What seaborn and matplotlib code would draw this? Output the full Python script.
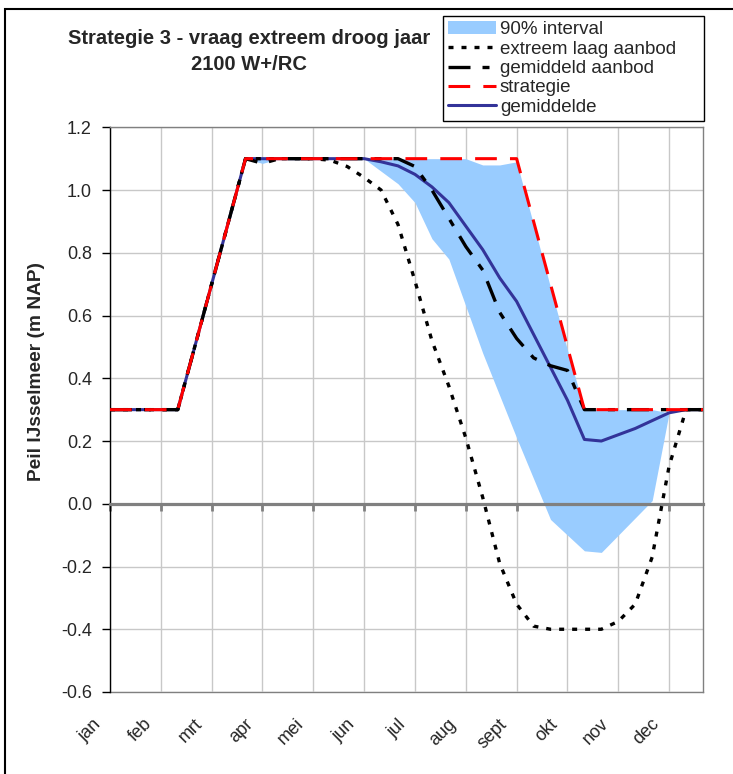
import numpy as np
import pandas as pd
import matplotlib
matplotlib.use("Agg")
import matplotlib.pyplot as plt
import seaborn as sns
from matplotlib.patches import Rectangle
from matplotlib.transforms import ScaledTranslation

# ---------------- data ----------------
months = ['jan', 'feb', 'mrt', 'apr', 'mei', 'jun', 'jul', 'aug', 'sept', 'okt', 'nov', 'dec']
decade = list(range(36))  # 3 decades per month

strategie = [0.3, 0.3, 0.3, 0.3, 0.3, 0.5, 0.7, 0.9,
             1.1, 1.1, 1.1, 1.1, 1.1, 1.1, 1.1, 1.1, 1.1, 1.1, 1.1, 1.1, 1.1, 1.1, 1.1, 1.1, 1.1,
             0.9, 0.7, 0.5,
             0.3, 0.3, 0.3, 0.3, 0.3, 0.3, 0.3, 0.3]

gemiddelde = [0.3, 0.3, 0.3, 0.3, 0.3, 0.5, 0.7, 0.9,
              1.1, 1.1, 1.1, 1.1, 1.1, 1.1, 1.1, 1.1,
              1.09, 1.077, 1.05, 1.01, 0.96, 0.885, 0.81, 0.72, 0.645, 0.54, 0.435, 0.33,
              0.205, 0.20, 0.22, 0.24, 0.265, 0.29, 0.30, 0.30]

gemiddeld_aanbod = [0.3, 0.3, 0.3, 0.3, 0.3, 0.5, 0.7, 0.9,
                    1.1, 1.085, 1.1, 1.1, 1.1, 1.1, 1.1, 1.1, 1.1, 1.1,
                    1.075, 1.0, 0.91, 0.82, 0.745, 0.61, 0.527, 0.465, 0.44, 0.425,
                    0.3, 0.3, 0.3, 0.3, 0.3, 0.3, 0.3, 0.3]

extreem_laag = [0.3, 0.3, 0.3, 0.3, 0.3, 0.5, 0.7, 0.9,
                1.1, 1.1, 1.1, 1.1, 1.1,
                1.095, 1.075, 1.04, 1.0, 0.89, 0.71, 0.52, 0.375, 0.21, 0.02, -0.19,
                -0.32, -0.39, -0.4, -0.4, -0.4, -0.4, -0.375, -0.32, -0.17, 0.12, 0.3, 0.3]

interval_laag = [0.3, 0.3, 0.3, 0.3, 0.3, 0.5, 0.7, 0.9,
                 1.1, 1.085, 1.1, 1.1, 1.1, 1.1, 1.1, 1.1,
                 1.06, 1.02, 0.96, 0.845, 0.78, 0.63, 0.48, 0.345, 0.21, 0.08, -0.05,
                 -0.10, -0.15, -0.155, -0.10, -0.045, 0.01, 0.29, 0.3, 0.3]

interval_hoog = [0.3, 0.3, 0.3, 0.3, 0.3, 0.5, 0.7, 0.9,
                 1.1, 1.1, 1.1, 1.1, 1.1, 1.1, 1.1, 1.1, 1.1, 1.1, 1.1, 1.1, 1.1, 1.1,
                 1.08, 1.08, 1.09, 0.89, 0.69, 0.49,
                 0.3, 0.3, 0.3, 0.3, 0.3, 0.29, 0.3, 0.3]

ytick_values = [-0.6, -0.4, -0.2, 0.0, 0.2, 0.4, 0.6, 0.8, 1.0, 1.2]
ytick_labels = ['-0.6', '-0.4', '-0.2', '0.0', '0.2', '0.4', '0.6', '0.8', '1.0', '1.2']

title_1 = 'Strategie 3 - vraag extreem droog jaar'
title_2 = '2100 W+/RC'
ylabel = 'Peil IJsselmeer (m NAP)'

df = pd.DataFrame({
    'decade': decade,
    'strategie': strategie,
    'gemiddelde': gemiddelde,
    'gemiddeld aanbod': gemiddeld_aanbod,
    'extreem laag aanbod': extreem_laag,
    'laag': interval_laag,
    'hoog': interval_hoog,
})

# ---------------- style ----------------
sns.set_style('white')
plt.rcParams['font.family'] = ['Liberation Sans', 'DejaVu Sans']
plt.rcParams['axes.unicode_minus'] = False

W, H = 733, 774
fig = plt.figure(figsize=(W / 100, H / 100), dpi=100)
L, R, T, B = 110, 703, 127.3, 692
ax = fig.add_axes([L / W, 1 - B / H, (R - L) / W, (B - T) / H])

# interval
ax.fill_between(df['decade'], df['laag'], df['hoog'], color='#99CCFF', lw=0,
                zorder=1, label='90% interval')

# lines
sns.lineplot(data=df, x='decade', y='gemiddelde', ax=ax, color='#333399',
             linewidth=2.2, label='gemiddelde', errorbar=None, zorder=3)
sns.lineplot(data=df, x='decade', y='extreem laag aanbod', ax=ax, color='black',
             linewidth=2.4, label='extreem laag aanbod', errorbar=None, zorder=4)
ax.lines[-1].set_linestyle((0, (1.5, 2.4)))
sns.lineplot(data=df, x='decade', y='gemiddeld aanbod', ax=ax, color='black',
             linewidth=2.4, label='gemiddeld aanbod', errorbar=None, zorder=5)
ax.lines[-1].set_linestyle((0, (6.6, 3.6, 2.1, 3.6)))
sns.lineplot(data=df, x='decade', y='strategie', ax=ax, color='#FF0000',
             linewidth=2.2, label='strategie', errorbar=None, zorder=6)
ax.lines[-1].set_linestyle((0, (7.1, 4.3)))

# axes limits & grid
ax.set_xlim(0, 35)
ax.set_ylim(-0.6, 1.2)
month_pos = [3 * i for i in range(len(months))]
ax.set_xticks(month_pos)
ax.set_yticks(ytick_values)
ax.set_yticklabels(ytick_labels)
ax.set_axisbelow(True)
ax.grid(True, color='#C8C8C8', linewidth=1)
ax.set_xlabel('')
ax.set_ylabel('')

# zero-line axis with ticks
ax.spines['bottom'].set_position(('data', 0))
ax.spines['bottom'].set_color('#808080')
ax.spines['bottom'].set_linewidth(2.3)
ax.tick_params(axis='x', direction='out', length=5, width=2.0, color='#808080',
               labelbottom=False, bottom=True)
for s in ['top', 'right']:
    ax.spines[s].set_color('#808080')
    ax.spines[s].set_linewidth(1)
ax.spines['left'].set_color('black')
ax.spines['left'].set_linewidth(1)
ax.tick_params(axis='y', direction='out', length=6, width=1, color='black',
               pad=7, labelsize=13, left=True)

# month labels at bottom
sec = ax.secondary_xaxis('bottom')
sec.set_xticks(month_pos)
sec.set_xticklabels(months)
sec.tick_params(length=0, pad=17, labelsize=13)
sec.spines['bottom'].set_color('#808080')
sec.spines['bottom'].set_linewidth(1)
off = ScaledTranslation(-6 / 100, 0, fig.dpi_scale_trans)
for lbl in sec.get_xticklabels():
    lbl.set_rotation(45)
    lbl.set_ha('right')
    lbl.set_va('top')
    lbl.set_transform(lbl.get_transform() + off)

# titles
fig.text(249 / W, 1 - 39 / H, title_1, ha='center', va='center',
         fontsize=14.5, fontweight='bold')
fig.text(249 / W, 1 - 64 / H, title_2, ha='center', va='center',
         fontsize=14.5, fontweight='bold')
fig.text(37 / W, 1 - 371 / H, ylabel, rotation=90, ha='center', va='center',
         fontsize=13.8, fontweight='bold')

# legend
h, l = ax.get_legend_handles_labels()
order = ['90% interval', 'extreem laag aanbod', 'gemiddeld aanbod', 'strategie', 'gemiddelde']
hd = dict(zip(l, h))
leg = ax.legend([hd[k] for k in order], order, loc='upper left', mode='expand',
                bbox_to_anchor=(443 / W, 1 - 121 / H, 261 / W, 105 / H),
                bbox_transform=fig.transFigure,
                frameon=True, fancybox=False, edgecolor='black', framealpha=1,
                fontsize=13.5, handlelength=2.56, handletextpad=0.2,
                labelspacing=0.12, borderpad=0.28, borderaxespad=0)
leg.get_frame().set_linewidth(1)

# outer chart frame
fig.add_artist(Rectangle((5 / W, -0.1), 1.2, 1.1 - 9 / H, transform=fig.transFigure,
                         fill=False, edgecolor='black', linewidth=1.5))

fig.savefig('out.png', dpi=100)
